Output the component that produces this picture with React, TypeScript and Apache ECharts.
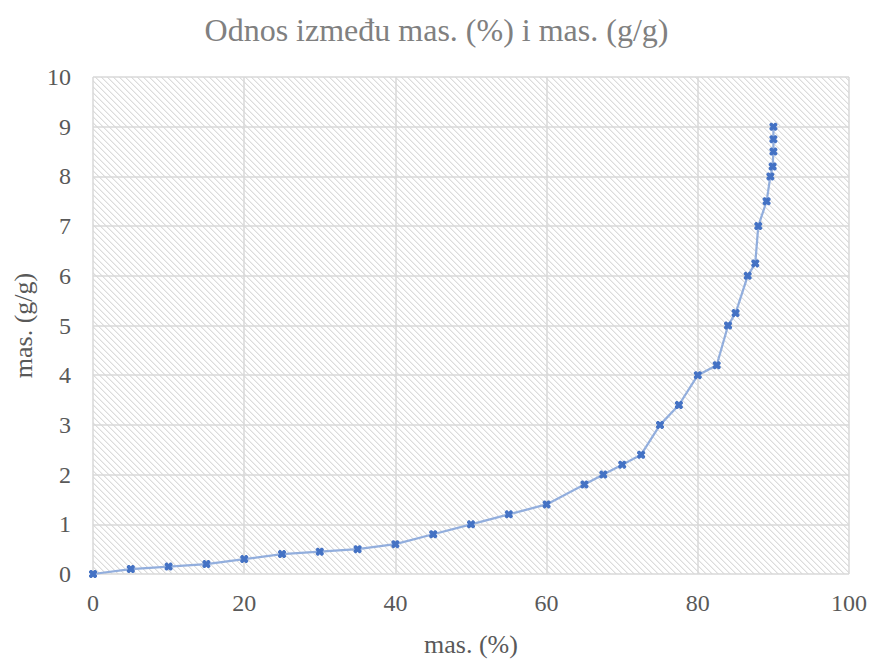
import React, { useEffect, useRef } from "react";
import * as echarts from "echarts";

const titleText = "Odnos između mas. (%) i mas. (g/g)";
const xName = "mas. (%)";
const yName = "mas. (g/g)";

const xPercent = [0, 5, 10, 15, 20, 25, 30, 35, 40, 45, 50, 55, 60, 65, 67.5, 70, 72.5, 75, 77.5, 80, 82.5, 84, 85, 86.6, 87.6, 88, 89.1, 89.6, 89.9, 90, 90, 90];
const yRatio = [0, 0.1, 0.15, 0.2, 0.3, 0.4, 0.45, 0.5, 0.6, 0.8, 1.0, 1.2, 1.4, 1.8, 2.0, 2.2, 2.4, 3.0, 3.4, 4.0, 4.2, 5.0, 5.25, 6.0, 6.25, 7.0, 7.5, 8.0, 8.2, 8.5, 8.75, 9.0];

const SERIF = "Liberation Serif";

function makeHatch(): string {
  const size = 6;
  const c = document.createElement("canvas");
  c.width = size;
  c.height = size;
  const ctx = c.getContext("2d")!;
  ctx.fillStyle = "#ffffff";
  ctx.fillRect(0, 0, size, size);
  for (let y = 0; y < size; y++) {
    for (let x = 0; x < size; x++) {
      const d = (((x - y) % size) + size) % size;
      if (d === 0) {
        ctx.fillStyle = "#dcdcdc";
        ctx.fillRect(x, y, 1, 1);
      } else if (d === 1) {
        ctx.fillStyle = "#efefef";
        ctx.fillRect(x, y, 1, 1);
      }
    }
  }
  return c.toDataURL();
}

export default function App() {
  const ref = useRef<HTMLDivElement>(null);
  useEffect(() => {
    if (!ref.current) return;
    const chart = echarts.init(ref.current, null, { renderer: "svg" });
    const hatch = makeHatch();
    const points = xPercent.map((x, i) => [x, yRatio[i]]);
    chart.setOption({
      animation: false,
      backgroundColor: "#ffffff",
      textStyle: { fontFamily: SERIF },
      title: {
        text: titleText,
        left: "center",
        top: 9,
        textStyle: {
          fontFamily: SERIF,
          fontSize: 32,
          fontWeight: "normal",
          color: "#808080",
        },
      },
      grid: {
        left: 93,
        top: 77,
        width: 756,
        height: 500,
        show: true,
        borderWidth: 0,
        backgroundColor: { image: hatch, repeat: "repeat", imageWidth: 6, imageHeight: 6 },
      },
      xAxis: {
        type: "value",
        min: 0,
        max: 100,
        interval: 20,
        name: xName,
        nameLocation: "middle",
        nameGap: 57,
        nameTextStyle: { fontFamily: SERIF, fontSize: 26, color: "#595959" },
        axisLine: { show: false },
        axisTick: { show: false },
        axisLabel: { fontFamily: SERIF, fontSize: 24, color: "#595959", margin: 17 },
        splitLine: { show: true, lineStyle: { color: "#d9d9d9", width: 1.5 } },
      },
      yAxis: {
        type: "value",
        min: 0,
        max: 10,
        interval: 1,
        name: yName,
        nameLocation: "middle",
        nameGap: 52,
        nameTextStyle: { fontFamily: SERIF, fontSize: 26, color: "#595959" },
        axisLine: { show: false },
        axisTick: { show: false },
        axisLabel: { fontFamily: SERIF, fontSize: 24, color: "#595959", margin: 22 },
        splitLine: { show: true, lineStyle: { color: "#d9d9d9", width: 1.5 } },
      },
      series: [
        {
          type: "line",
          data: points,
          lineStyle: { color: "#92aedd", width: 2.25 },
          itemStyle: { color: "#4472c4" },
          symbol: "path://M1,0 L2,0 L3,1 L4,0 L5,0 L6,1 L6,2 L5,3 L6,4 L6,5 L5,6 L4,6 L3,5 L2,6 L1,6 L0,5 L0,4 L1,3 L0,2 L0,1 Z",
          symbolSize: 8,
          showAllSymbol: true,
          silent: true,
        },
      ],
    });
    return () => chart.dispose();
  }, []);
  return (
    <div
      ref={ref}
      style={{ position: "fixed", left: 0, top: 0, width: 873, height: 662 }}
    />
  );
}
